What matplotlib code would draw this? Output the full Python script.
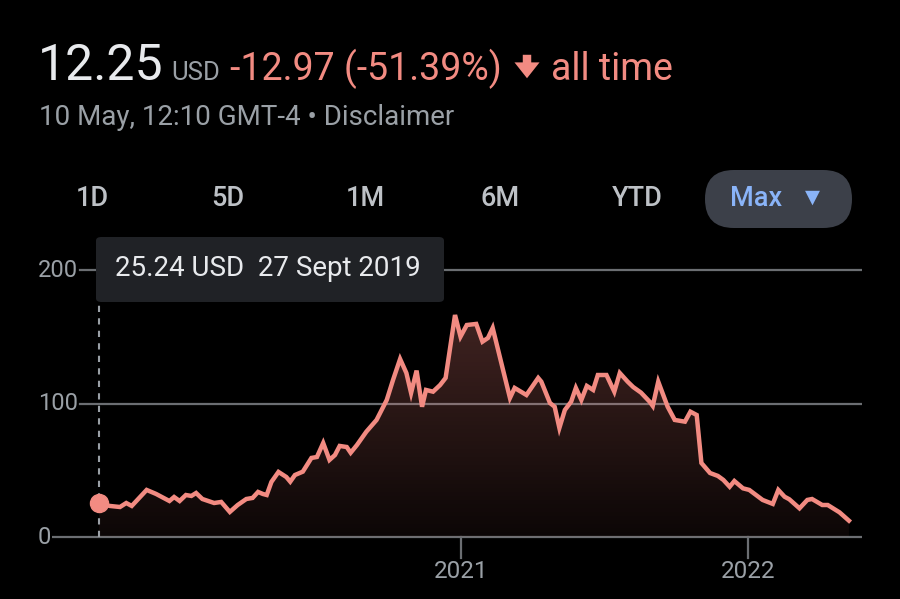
import numpy as np
import pandas as pd
import matplotlib
matplotlib.use('Agg')
import matplotlib.pyplot as plt
import matplotlib.dates as mdates
from matplotlib.patches import FancyBboxPatch, FancyArrowPatch

matplotlib.rcParams['font.family'] = ['Roboto', 'DejaVu Sans']

# price data (USD)
dates = ['2019-09-27', '2019-10-11', '2019-10-24', '2019-11-01', '2019-11-08', '2019-11-27',
         '2019-12-09', '2019-12-26', '2020-01-01', '2020-01-08', '2020-01-16', '2020-01-23',
         '2020-01-29', '2020-02-06', '2020-02-21', '2020-03-01', '2020-03-12', '2020-03-22',
         '2020-04-02', '2020-04-10', '2020-04-17', '2020-04-23', '2020-04-28', '2020-05-04',
         '2020-05-13', '2020-05-23', '2020-05-28', '2020-06-03', '2020-06-13', '2020-06-24',
         '2020-07-01', '2020-07-09', '2020-07-17', '2020-07-24', '2020-07-30', '2020-08-08',
         '2020-08-13', '2020-08-21', '2020-09-02', '2020-09-15', '2020-09-28', '2020-10-06',
         '2020-10-15', '2020-10-23', '2020-10-29', '2020-11-05', '2020-11-12', '2020-11-17',
         '2020-11-26', '2020-12-05', '2020-12-12', '2020-12-24', '2020-12-31', '2021-01-08',
         '2021-01-20', '2021-01-28', '2021-02-04', '2021-02-10', '2021-03-04', '2021-03-10',
         '2021-03-25', '2021-04-09', '2021-04-13', '2021-04-24', '2021-04-30', '2021-05-06',
         '2021-05-13', '2021-05-21', '2021-05-27', '2021-06-03', '2021-06-10', '2021-06-18',
         '2021-06-24', '2021-07-05', '2021-07-15', '2021-07-22', '2021-08-01', '2021-08-08',
         '2021-08-18', '2021-08-29', '2021-09-02', '2021-09-09', '2021-09-21', '2021-09-30',
         '2021-10-13', '2021-10-20', '2021-10-28', '2021-11-03', '2021-11-14', '2021-11-24',
         '2021-12-01', '2021-12-09', '2021-12-15', '2021-12-26', '2022-01-03', '2022-01-20',
         '2022-02-02', '2022-02-09', '2022-02-17', '2022-02-23', '2022-03-08', '2022-03-18',
         '2022-03-24', '2022-04-06', '2022-04-13', '2022-04-28', '2022-05-10']
prices = [25.24, 23.3, 22.5, 25.5, 23.3, 35.3,
          32.3, 27.0, 30.0, 27.0, 31.5, 30.8,
          33.0, 28.5, 25.5, 26.3, 18.8, 24.0,
          28.5, 29.3, 33.8, 32.3, 31.5, 41.3,
          48.8, 45.0, 41.5, 46.5, 49.0, 59.3,
          60.0, 70.5, 57.8, 61.5, 68.3, 67.5,
          63.2, 69.0, 79.0, 87.8, 102.8, 117.8,
          133.5, 123.0, 108.0, 124.8, 97.7, 110.3,
          109.0, 114.0, 119.3, 166.5, 150.3, 159.0,
          159.8, 146.5, 149.3, 156.8, 104.3, 111.8,
          106.5, 119.3, 116.5, 100.5, 97.7, 81.8,
          95.3, 101.5, 111.8, 102.8, 113.3, 110.3,
          121.5, 121.5, 109.0, 123.0, 116.5, 112.5,
          108.3, 101.5, 98.3, 116.5, 97.7, 87.8,
          86.5, 94.0, 91.5, 55.5, 48.0, 45.8,
          42.8, 37.7, 42.0, 36.5, 35.3, 27.8,
          24.8, 35.3, 30.2, 28.3, 21.5, 27.8,
          28.5, 24.0, 24.0, 18.5, 12.25]
y_ticks = [0, 100, 200]
year_ticks = ['2021-01-01', '2022-01-01']
year_labels = ['2021', '2022']
ranges = ['1D', '5D', '1M', '6M', 'YTD']

x = pd.to_datetime(dates)
xn = mdates.date2num(x)

W, H = 900, 599
def fx(px):
    return px / W
def fy(py):
    return 1 - py / H

line_c = '#f28b82'
grey = '#9aa0a6'
grid_c = '#6b6e72'

fig = plt.figure(figsize=(9, 5.99), dpi=100, facecolor='black')

ax = fig.add_axes([fx(52), fy(560), fx(862) - fx(52), fy(250) - fy(560)])
ax.set_facecolor('black')
for s in ax.spines.values():
    s.set_visible(False)
ax.set_xticks([])
ax.set_yticks([])

d21 = mdates.date2num(pd.Timestamp('2021-01-01'))
ppd = 286.4 / 365.0
xlim = (d21 - (461.3 - 52) / ppd, d21 + (862 - 461.3) / ppd)
ylim = (-23 / 1.3333, 287 / 1.3333)

# grid lines
gx0 = (80 - 52) / 810
for v in y_ticks:
    xmin = 0 if v == 0 else gx0
    ax.axhline(v, xmin=xmin, xmax=1, color=grid_c, lw=1.6, zorder=1)
    ax.text(-0.001 if v == 0 else gx0 - 0.002, v, str(v), transform=ax.get_yaxis_transform(),
            ha='right', va='center', color=grey, fontsize=17)

# gradient fill under the line
poly = ax.fill_between(xn, prices, 0, color='none', lw=0, zorder=2)
grad = np.linspace(0.05, 0.27, 256).reshape(-1, 1)
rgba = np.zeros((256, 1, 4))
rgba[..., 0] = 0.95
rgba[..., 1] = 0.52
rgba[..., 2] = 0.49
rgba[..., 3] = grad
img = ax.imshow(rgba, aspect='auto', origin='lower',
                extent=[xn[0], xn[-1], 0, max(prices)], zorder=2, interpolation='bilinear')
img.set_clip_path(poly.get_paths()[0], transform=ax.transData)
ax.set_xlim(*xlim)
ax.set_ylim(*ylim)

ax.plot(xn, prices, color=line_c, lw=3.2, solid_joinstyle='miter', zorder=4)

# hover marker + dotted guide
ax.plot([xn[0], xn[0]], [0, (537 - 302) / 1.3333], color=grey, lw=1.5,
        ls=(0, (3, 3)), zorder=3)
ax.plot(xn[0], prices[0], 'o', color=line_c, ms=13, zorder=5)

# year ticks
for d, lab in zip(year_ticks, year_labels):
    dn = mdates.date2num(pd.Timestamp(d))
    ax.plot([dn, dn], [0, -15.5], color=grid_c, lw=1.6, zorder=1, clip_on=False)
    ax.text(dn, -26, lab, ha='center', va='center', color=grey, fontsize=17.5, clip_on=False)

# header
fig.text(fx(38), fy(80), '12.25', color='#e8eaed', fontsize=36, va='baseline')
fig.text(fx(171), fy(80), 'USD', color=grey, fontsize=18.5, va='baseline')
fig.text(fx(230), fy(80), '-12.97 (-51.39%)', color=line_c, fontsize=27, va='baseline')
arrow = FancyArrowPatch((fx(527), fy(52)), (fx(527), fy(81)), transform=fig.transFigure,
                        arrowstyle='simple,head_length=0.6,head_width=0.95,tail_width=0.32',
                        mutation_scale=19, color=line_c, lw=0)
fig.patches.append(arrow)
fig.text(fx(551), fy(80), 'all time', color=line_c, fontsize=27, va='baseline')
fig.text(fx(39), fy(125), '10 May, 12:10 GMT-4 • Disclaimer', color=grey, fontsize=20,
         va='baseline')

# range buttons
for lab, cx in zip(ranges, [92, 228, 365, 500, 637]):
    fig.text(fx(cx), fy(199), lab, color='#bdc1c6', fontsize=19.5, ha='center', va='center',
             fontweight='medium')
pill = FancyBboxPatch((fx(705), fy(228)), fx(852) - fx(705), fy(170) - fy(228),
                      boxstyle='round,pad=0,rounding_size=0.032', transform=fig.transFigure,
                      facecolor='#3c4049', edgecolor='none', mutation_aspect=1.5)
fig.patches.append(pill)
fig.text(fx(756), fy(199), 'Max', color='#8ab4f8', fontsize=19.5, ha='center', va='center',
         fontweight='medium')
fig.text(fx(812), fy(197), '▼', color='#8ab4f8', fontsize=14, ha='center', va='center',
         family=['DejaVu Sans'])

# tooltip
tip = FancyBboxPatch((fx(96), fy(302)), fx(444) - fx(96), fy(237) - fy(302),
                     boxstyle='round,pad=0,rounding_size=0.006', transform=fig.transFigure,
                     facecolor='#202226', edgecolor='none', zorder=10)
fig.patches.append(tip)
fig.text(fx(115), fy(268), '25.24 USD  27 Sept 2019', color='#e8eaed', fontsize=20,
         va='center', zorder=11)

fig.savefig('out.png', dpi=100, facecolor='black')
